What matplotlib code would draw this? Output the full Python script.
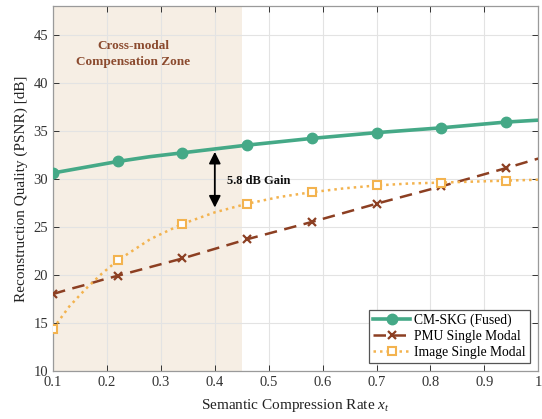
import matplotlib
matplotlib.use("Agg")
import matplotlib.pyplot as plt

plt.rcParams['font.family'] = ['Liberation Serif', 'DejaVu Serif']
plt.rcParams['mathtext.fontset'] = 'custom'
plt.rcParams['mathtext.rm'] = 'Liberation Serif'
plt.rcParams['mathtext.it'] = 'Liberation Serif:italic'

# Data
x = [0.10, 0.13, 0.16, 0.19, 0.22, 0.28, 0.34, 0.40, 0.46, 0.52, 0.58, 0.64, 0.70, 0.76, 0.82, 0.88, 0.94, 1.00]
cm_skg = [30.6, 30.9, 31.2, 31.5, 31.8, 32.3, 32.7, 33.1, 33.5, 33.85, 34.2, 34.5, 34.8, 35.05, 35.3, 35.6, 35.9, 36.1]
pmu = [18.0, 18.5, 18.95, 19.45, 19.9, 20.8, 21.7, 22.7, 23.7, 24.6, 25.5, 26.45, 27.4, 28.3, 29.2, 30.15, 31.1, 32.1]
image = [14.4, 16.7, 18.5, 20.1, 21.5, 23.7, 25.3, 26.5, 27.4, 28.1, 28.6, 29.0, 29.3, 29.5, 29.6, 29.7, 29.8, 29.9]
marker_idx = [0, 4, 6, 8, 10, 12, 14, 16]

series_labels = ["CM-SKG (Fused)", "PMU Single Modal", "Image Single Modal"]
xticks = [0.1, 0.2, 0.3, 0.4, 0.5, 0.6, 0.7, 0.8, 0.9, 1.0]
xticklabels = ["0.1", "0.2", "0.3", "0.4", "0.5", "0.6", "0.7", "0.8", "0.9", "1"]
yticks = [10, 15, 20, 25, 30, 35, 40, 45]

zone = (0.1, 0.45)
gain_x = 0.4
gain_lo, gain_hi = 27.0, 32.8

green = '#45a987'
brown = '#8c3f22'
orange = '#f3b34f'

fig = plt.figure(figsize=(5.42, 4.19), dpi=100)
ax = fig.add_axes([0.098, 0.115, 0.895, 0.871])

ax.axvspan(zone[0], zone[1], color='#f6eee4', zorder=0, lw=0)

ax.plot(x, cm_skg, color=green, lw=2.6, marker='o', ms=7.5, markevery=marker_idx,
        label=series_labels[0], zorder=4)
ax.plot(x, pmu, color=brown, lw=1.8, ls=(0, (5, 3)), marker='x', ms=6, mew=1.6,
        markevery=marker_idx, label=series_labels[1], zorder=3)
ax.plot(x, image, color=orange, lw=1.8, ls=(0, (1, 1.6)), marker='s', ms=6, mew=1.5,
        mfc='white', markevery=marker_idx, label=series_labels[2], zorder=3)

ax.annotate('', xy=(gain_x, gain_lo), xytext=(gain_x, gain_hi),
            arrowprops=dict(arrowstyle='<|-|>,head_length=0.7,head_width=0.35',
                            color='black', lw=1.3, shrinkA=0, shrinkB=0), zorder=5)
ax.text(0.422, 29.75, '5.8 dB Gain', fontsize=9, fontweight='bold', ha='left', va='center',
        color='#111111')
ax.text(0.248, 43.0, 'Cross-modal\nCompensation Zone', fontsize=9.5, fontweight='bold',
        ha='center', va='center', color='#8b4a2e', linespacing=1.5)

ax.set_xlim(0.1, 1.0)
ax.set_ylim(10, 48)
ax.set_xticks(xticks)
ax.set_xticklabels(xticklabels)
ax.set_yticks(yticks)
ax.grid(True, color='#e3e3e3', lw=0.8)
ax.set_axisbelow(True)
ax.tick_params(direction='in', top=True, right=True, labelsize=10.5, colors='#333333',
               length=4, width=0.7)
ax.tick_params(axis='both', labelcolor='#333333')
for s in ax.spines.values():
    s.set_color('#9a9a9a')
    s.set_linewidth(0.9)

ax.set_xlabel('Semantic Compression Rate $x_t$', fontsize=11, color='#222222', labelpad=6)
ax.set_ylabel('Reconstruction Quality (PSNR) [dB]', fontsize=11, color='#222222', labelpad=4)

leg = ax.legend(loc='lower right', fontsize=9.8, frameon=True, fancybox=False,
                edgecolor='#555555', framealpha=1, borderpad=0.3, handlelength=2.7,
                handletextpad=0.3, labelspacing=0.2, borderaxespad=0.6)
leg.get_frame().set_linewidth(0.9)

fig.savefig('out.png', dpi=100)
